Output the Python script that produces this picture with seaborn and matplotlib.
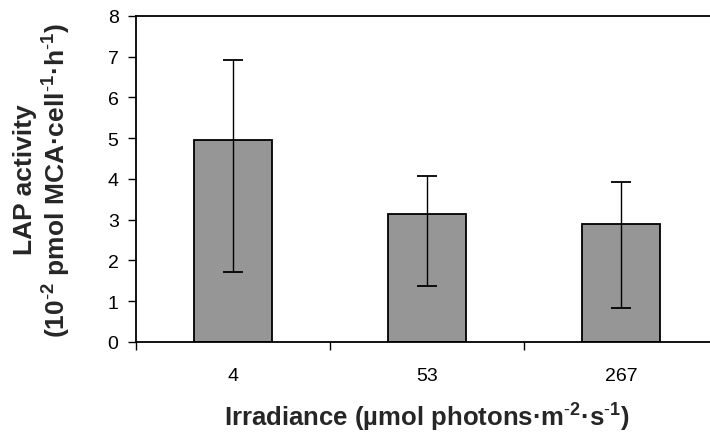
import matplotlib
matplotlib.use("Agg")
import matplotlib.pyplot as plt
import seaborn as sns
import pandas as pd
import numpy as np
from matplotlib.ticker import FixedLocator

# LAP activity at three irradiance levels
irradiance = ["4", "53", "267"]
lap_mean = [4.95, 3.14, 2.89]
err_low = [1.71, 1.37, 0.84]
err_high = [6.92, 4.08, 3.92]

sns.set_theme(style="white")
plt.rcParams["font.family"] = ["Liberation Sans", "DejaVu Sans"]
plt.rcParams["mathtext.fontset"] = "custom"
plt.rcParams["mathtext.rm"] = "Liberation Sans"
plt.rcParams["mathtext.bf"] = "Liberation Sans:bold"

df = pd.DataFrame({"irradiance": irradiance, "lap": lap_mean})

fig = plt.figure(figsize=(7.1, 4.35), dpi=100)
ax = fig.add_axes([0.1915, 0.2115, 1.0113 - 0.1915, 0.961 - 0.2115])

sns.barplot(data=df, x="irradiance", y="lap", order=irradiance,
            color="#969696", saturation=1, width=0.4, errorbar=None,
            edgecolor="black", linewidth=1.3, ax=ax)

xs = np.arange(len(irradiance))
means = np.array(lap_mean)
yerr = [means - np.array(err_low), np.array(err_high) - means]
ax.errorbar(xs, means, yerr=yerr, fmt="none", ecolor="black",
            elinewidth=1.0, capsize=7, capthick=1.3)

ax.set_xlim(-0.5, 2.5)
ax.set_ylim(0, 8)
ax.set_yticks(range(0, 9))

for side in ["left", "bottom", "top", "right"]:
    ax.spines[side].set_visible(True)
    ax.spines[side].set_color("black")
    ax.spines[side].set_linewidth(1.3)

ax.xaxis.set_minor_locator(FixedLocator([-0.5, 0.5, 1.5, 2.5]))
ax.tick_params(axis="x", which="major", length=0, pad=18, labelsize=14,
               colors="black")
ax.tick_params(axis="x", which="minor", length=6, width=1.0,
               direction="out", bottom=True, color="black")
ax.tick_params(axis="y", which="major", length=6, width=1.0,
               direction="out", left=True, pad=6.5, labelsize=14,
               colors="black")

sup = lambda s: r"$\mathbf{^{\text{-}" + s + "}}$"
ax.set_xlabel("Irradiance (µmol photons·m" + sup("2") + "·s" + sup("1") + ")",
              fontsize=18.5, fontweight="bold", labelpad=12)
ax.set_ylabel("LAP activity\n(10" + sup("2") + " pmol MCA·cell" + sup("1")
              + "·h" + sup("1") + ")",
              fontsize=19, fontweight="bold", labelpad=25, linespacing=1.15)

fig.savefig("out.png", dpi=100)
